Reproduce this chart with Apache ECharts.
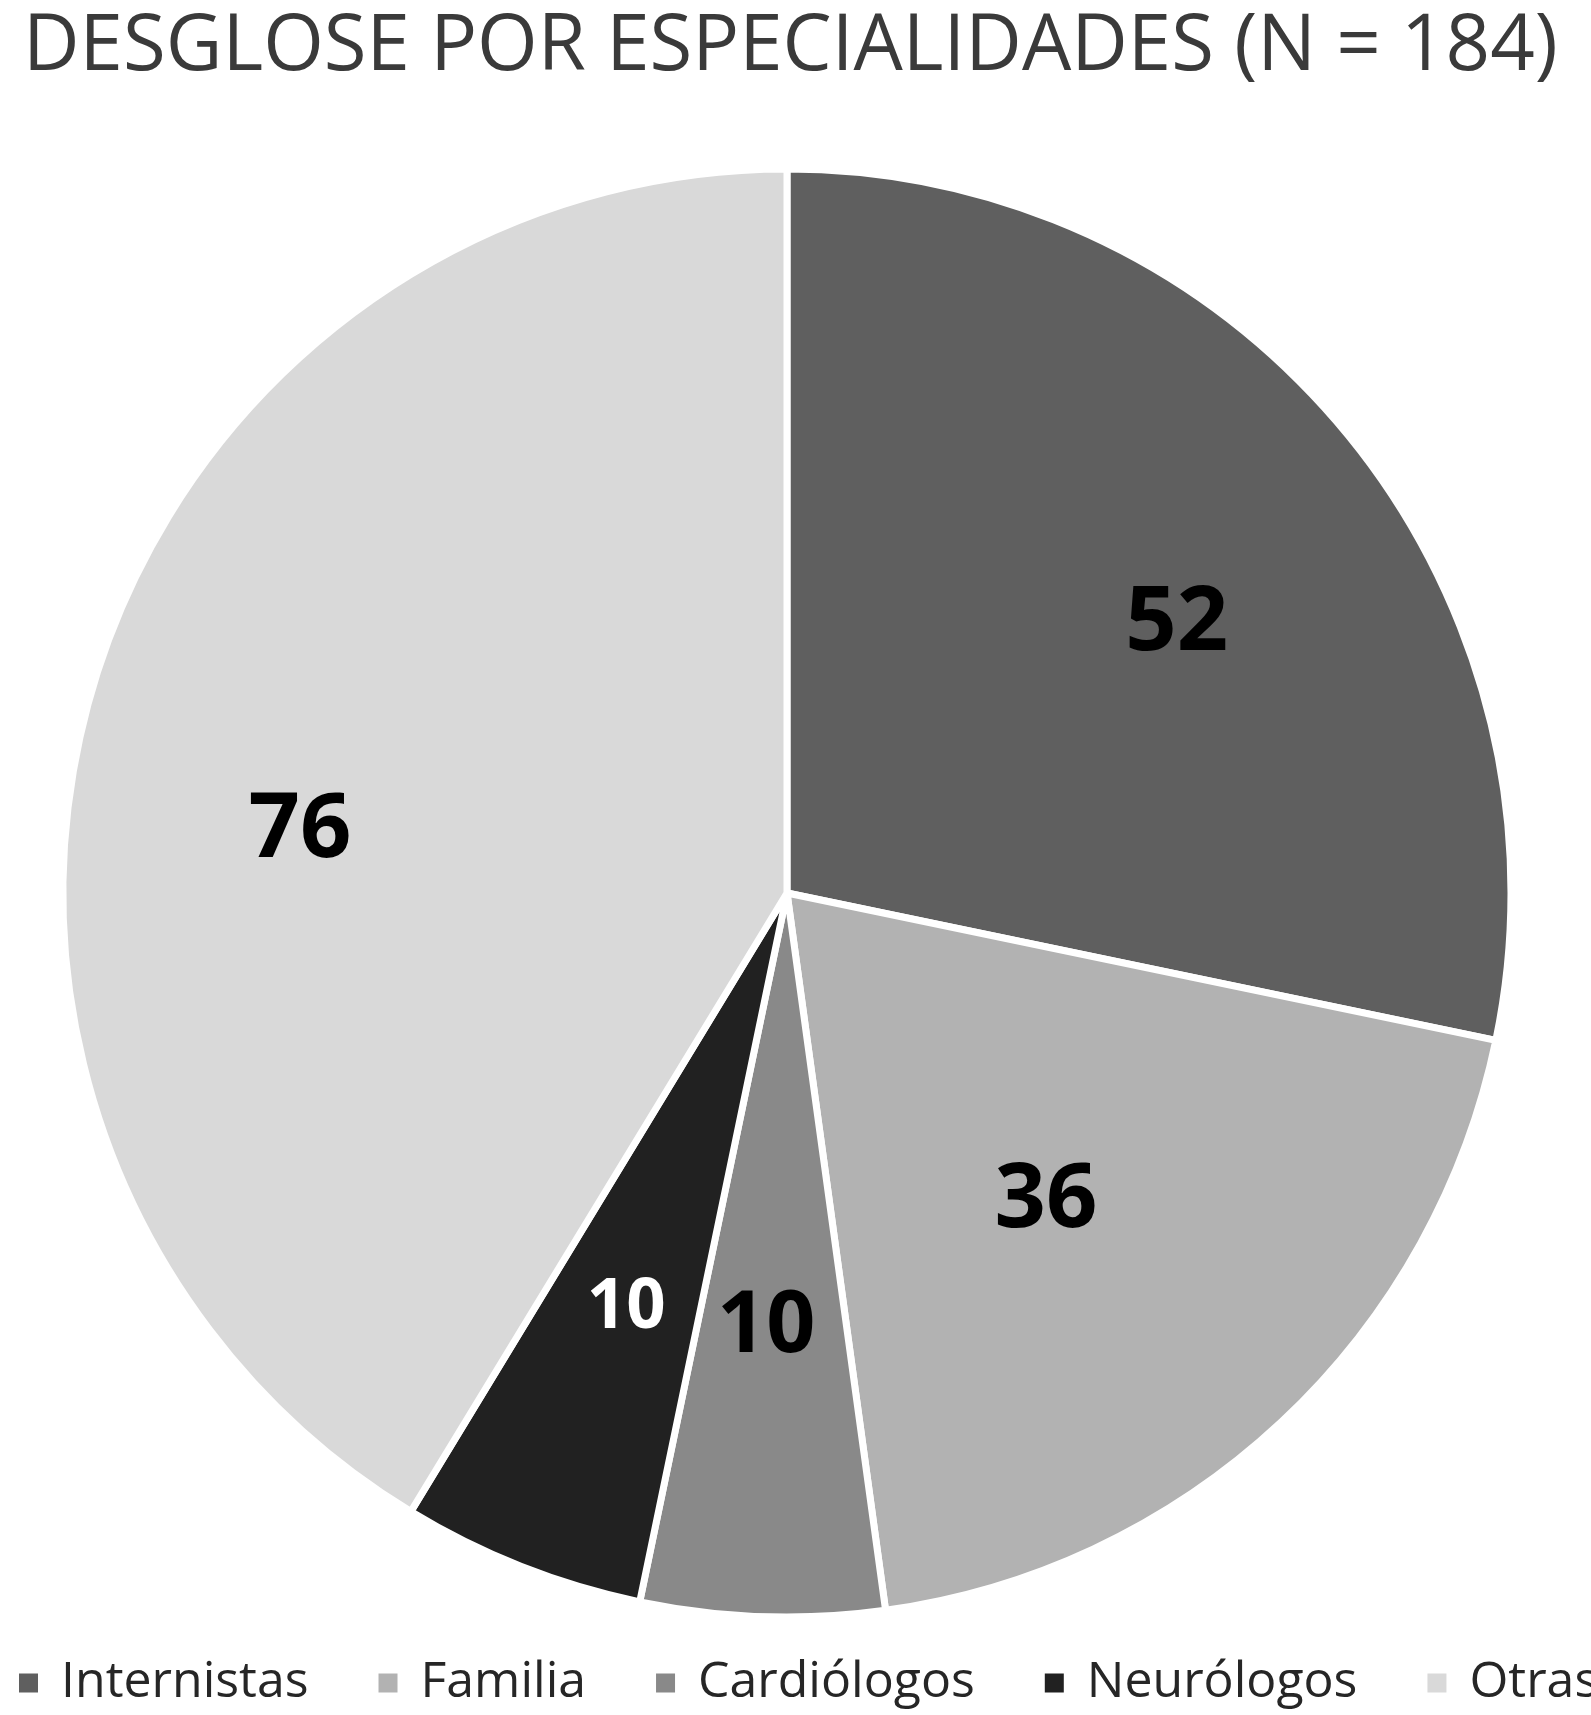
<!DOCTYPE html>
<html>
<head>
<meta charset="utf-8">
<script src="https://cdn.jsdelivr.net/npm/echarts@6/dist/echarts.min.js"></script>
<style>
  html, body { margin: 0; padding: 0; background: #fff; }
  #chart { width: 1591px; height: 1715px; }
</style>
</head>
<body>
<div id="chart"></div>
<script>
// datos
const categorias = ['Internistas', 'Familia', 'Cardiólogos', 'Neurólogos', 'Otras'];
const valores = [52, 36, 10, 10, 76];
const colores = ['#5f5f5f', '#b2b2b2', '#898989', '#212121', '#d9d9d9'];
const colorEtiqueta = ['#000', '#000', '#000', '#fff', '#000'];
const tamEtiqueta = [90, 90, 86, 69, 90];
// pequeño ajuste de las etiquetas (como en el original)
const desplazamiento = [[33, 22], [-55, -28], [-5, -25], [8, -13], [-44, 62]];

const chart = echarts.init(document.getElementById('chart'));

const datos = categorias.map((c, i) => ({
  name: c,
  value: valores[i],
  itemStyle: { color: colores[i] }
}));

// serie transparente solo para colocar las etiquetas a ~2/3 del radio
const datosEtiquetas = categorias.map((c, i) => ({
  name: c,
  value: valores[i],
  label: { color: colorEtiqueta[i], fontSize: tamEtiqueta[i], offset: desplazamiento[i] }
}));

const option = {
  backgroundColor: '#fff',
  animation: false,
  title: {
    text: 'DESGLOSE POR ESPECIALIDADES (N = 184)',
    left: 18,
    top: 4,
    textStyle: {
      fontFamily: 'Open Sans',
      fontWeight: 'normal',
      fontSize: 78,
      color: '#3a3a3a'
    }
  },
  legend: {
    data: categorias,
    bottom: 2,
    left: 12,
    width: 1800,
    itemWidth: 21,
    itemHeight: 21,
    itemGap: 68,
    icon: 'rect',
    textStyle: {
      fontFamily: 'Open Sans',
      fontSize: 50,
      color: '#262626',
      padding: [0, 0, 0, 17]
    }
  },
  series: [
    {
      type: 'pie',
      center: [787, 893],
      radius: [0, 724],
      startAngle: 90,
      clockwise: true,
      silent: true,
      label: { show: false },
      labelLine: { show: false },
      itemStyle: { borderColor: '#fff', borderWidth: 7 },
      data: datos
    },
    {
      type: 'pie',
      center: [787, 893],
      radius: [190, 724],
      startAngle: 90,
      clockwise: true,
      silent: true,
      legendHoverLink: false,
      itemStyle: { color: 'rgba(0,0,0,0)' },
      label: {
        show: true,
        position: 'inside',
        formatter: '{c}',
        fontFamily: 'Open Sans',
        fontWeight: 'bold'
      },
      labelLine: { show: false },
      data: datosEtiquetas
    }
  ]
};

chart.setOption(option);
</script>
</body>
</html>
